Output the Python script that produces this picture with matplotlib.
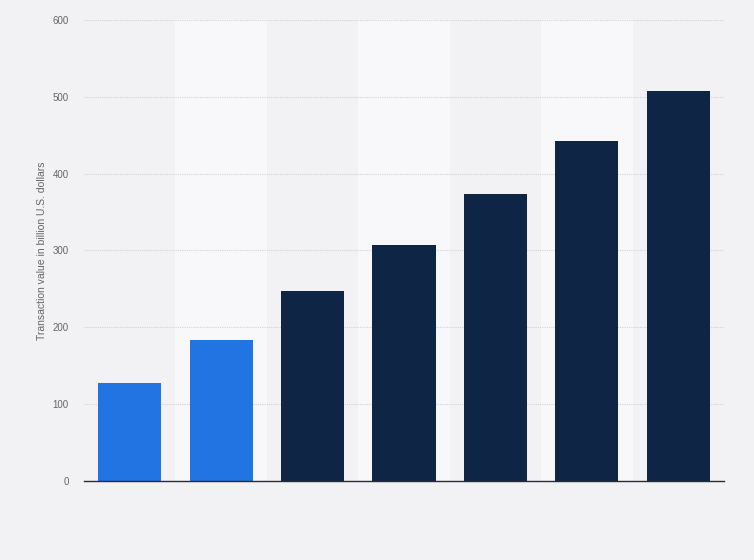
import matplotlib.pyplot as plt
import numpy as np

plt.rcParams["font.family"] = ["Liberation Sans", "DejaVu Sans"]

# values (billion U.S. dollars)
categories = ["2017", "2018", "2019", "2020", "2021", "2022", "2023"]
values = [128, 183, 247, 307, 373, 443, 507]
is_forecast = [False, False, True, True, True, True, True]
y_ticks = [0, 100, 200, 300, 400, 500, 600]

BG = "#f2f1f4"
BAND = "#f8f7fa"
BLUE = "#2274e2"
NAVY = "#0f2545"

fig = plt.figure(figsize=(7.54, 5.6), dpi=100, facecolor=BG)
ax = fig.add_axes([84 / 754, 1 - 481 / 560, 640 / 754, 461 / 560])
ax.set_facecolor(BG)

x = np.arange(len(categories))
for i in x:
    if i % 2 == 1:
        ax.axvspan(i - 0.5, i + 0.5, color=BAND, zorder=0, lw=0)

colors = [NAVY if f else BLUE for f in is_forecast]
ax.bar(x, values, width=0.69, color=colors, zorder=3)

ax.set_xlim(-0.5, len(categories) - 0.5)
ax.set_ylim(0, 600)
ax.set_yticks(y_ticks)
ax.set_xticks([])
ax.yaxis.grid(True, linestyle=(0, (1, 1)), color="#d2d2d8", linewidth=0.8, zorder=1)
ax.set_axisbelow(True)

for s in ["top", "right", "left"]:
    ax.spines[s].set_visible(False)
ax.spines["bottom"].set_color("#2b2b33")
ax.spines["bottom"].set_linewidth(1.0)
ax.spines["bottom"].set_zorder(4)

ax.tick_params(axis="y", length=0, pad=11, labelsize=7, labelcolor="#666666")
ax.set_ylabel("Transaction value in billion U.S. dollars", fontsize=7.5,
              color="#666666")
ax.yaxis.set_label_coords(-0.058, 0.5)

fig.savefig("out.png", dpi=100, facecolor=BG)
